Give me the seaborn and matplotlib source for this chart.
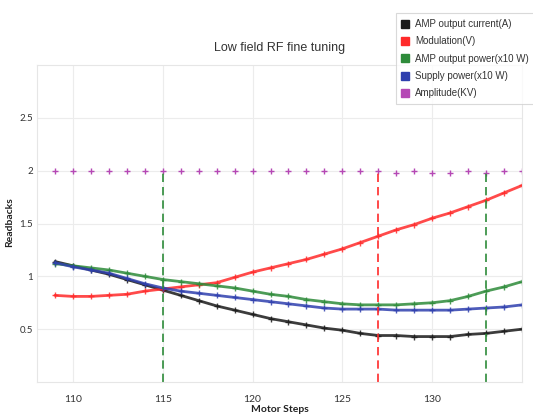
import numpy as np
import pandas as pd
import matplotlib
matplotlib.use("Agg")
import matplotlib.pyplot as plt
from matplotlib.patches import Patch
import seaborn as sns

steps = list(range(109, 136))
amp_current = [1.14, 1.10, 1.06, 1.02, 0.97, 0.92, 0.87, 0.82, 0.77, 0.72, 0.68, 0.64, 0.60, 0.57,
               0.54, 0.51, 0.49, 0.46, 0.44, 0.44, 0.43, 0.43, 0.43, 0.45, 0.46, 0.48, 0.50]
modulation = [0.82, 0.81, 0.81, 0.82, 0.83, 0.86, 0.88, 0.90, 0.92, 0.94, 0.99, 1.04, 1.08, 1.12,
              1.16, 1.21, 1.26, 1.32, 1.38, 1.44, 1.49, 1.55, 1.60, 1.66, 1.72, 1.79, 1.86]
amp_power = [1.12, 1.10, 1.08, 1.06, 1.03, 1.00, 0.97, 0.95, 0.93, 0.91, 0.89, 0.86, 0.83, 0.81,
             0.78, 0.76, 0.74, 0.73, 0.73, 0.73, 0.74, 0.75, 0.77, 0.81, 0.86, 0.90, 0.95]
supply_power = [1.13, 1.09, 1.06, 1.03, 0.98, 0.93, 0.89, 0.86, 0.84, 0.82, 0.80, 0.78, 0.76, 0.74,
                0.72, 0.70, 0.69, 0.69, 0.69, 0.68, 0.68, 0.68, 0.68, 0.69, 0.70, 0.71, 0.73]
amplitude = [2.0, 2.0, 2.0, 2.0, 2.0, 2.0, 2.0, 2.0, 2.0, 2.0, 2.0, 2.0, 2.0, 2.0,
             2.0, 2.0, 2.0, 2.0, 2.0, 1.98, 2.0, 1.98, 1.98, 2.0, 1.98, 2.0, 2.0]

series_names = ["AMP output current(A)", "Modulation(V)", "AMP output power(x10 W)",
                "Supply power(x10 W)", "Amplitude(KV)"]
series_colors = ["#1a1a1a", "#ff2a2a", "#2e8b3a", "#2f3fae", "#b548b5"]

vline_x = [115, 127, 133]
vline_colors = ["#2e8b3a", "#ff2a2a", "#2e8b3a"]

xticks = [110, 115, 120, 125, 130]
yticks = [0.5, 1, 1.5, 2, 2.5]
ytick_labels = ["0.5", "1", "1.5", "2", "2.5"]

sns.set_theme(style="white")
plt.rcParams['font.family'] = ['Lato', 'DejaVu Sans']

fig = plt.figure(figsize=(5.33, 4.2), dpi=100)
ax = fig.add_axes([37 / 533, 1 - 382 / 420, (522 - 37) / 533, (382 - 65) / 420])

line_series = [amp_current, modulation, amp_power, supply_power]
for vals, name, col in zip(line_series, series_names[:4], series_colors[:4]):
    df = pd.DataFrame({"step": steps, "value": vals})
    sns.lineplot(data=df, x="step", y="value", ax=ax, color=col, lw=2.0, alpha=0.85,
                 marker="+", markersize=5, markeredgewidth=1.0, markeredgecolor=col)

dfa = pd.DataFrame({"step": steps, "value": amplitude})
sns.scatterplot(data=dfa, x="step", y="value", ax=ax, color=series_colors[4], marker="+",
                s=25, linewidth=1.0)

for x, c in zip(vline_x, vline_colors):
    ax.vlines(x, 0, 2.0, colors=c, linestyles=(0, (5, 3)), lw=1.2)

ax.set_xlim(108, 135)
ax.set_ylim(0, 3)
ax.set_xticks(xticks)
ax.set_yticks(yticks)
ax.set_yticklabels(ytick_labels)
ax.grid(True, color="#ececec", lw=0.8)
ax.set_axisbelow(True)
for s in ax.spines.values():
    s.set_color("#e6e6e6")
    s.set_linewidth(0.8)
ax.tick_params(axis="x", length=0, labelsize=7.5, colors="#333333", pad=9)
ax.tick_params(axis="y", length=0, labelsize=7, colors="#333333", pad=3)
ax.set_xlabel("Motor Steps", fontsize=7.5, fontweight="bold", color="#222222")
ax.xaxis.set_label_coords(0.5, -0.072)
ax.set_ylabel("Readbacks", fontsize=7.5, fontweight="bold", color="#222222")
ax.yaxis.set_label_coords(-0.048, 0.505)
ax.set_title("Low field RF fine tuning", fontsize=9, color="#333333", pad=10,
             family=['Liberation Sans', 'DejaVu Sans'])

handles = [Patch(facecolor=c, edgecolor=c) for c in series_colors]
leg = fig.legend(handles, series_names, loc="upper right", bbox_to_anchor=(1.012, 0.98),
                 frameon=True, fancybox=False, edgecolor="#d0d0d0",
                 handlelength=0.8, handleheight=0.9, handletextpad=0.6, labelspacing=0.75,
                 borderpad=0.6, prop={'family': ['Liberation Sans', 'DejaVu Sans'], 'size': 7})
leg.get_frame().set_linewidth(0.8)
for t in leg.get_texts():
    t.set_color("#333333")

fig.savefig("out.png", dpi=100)
